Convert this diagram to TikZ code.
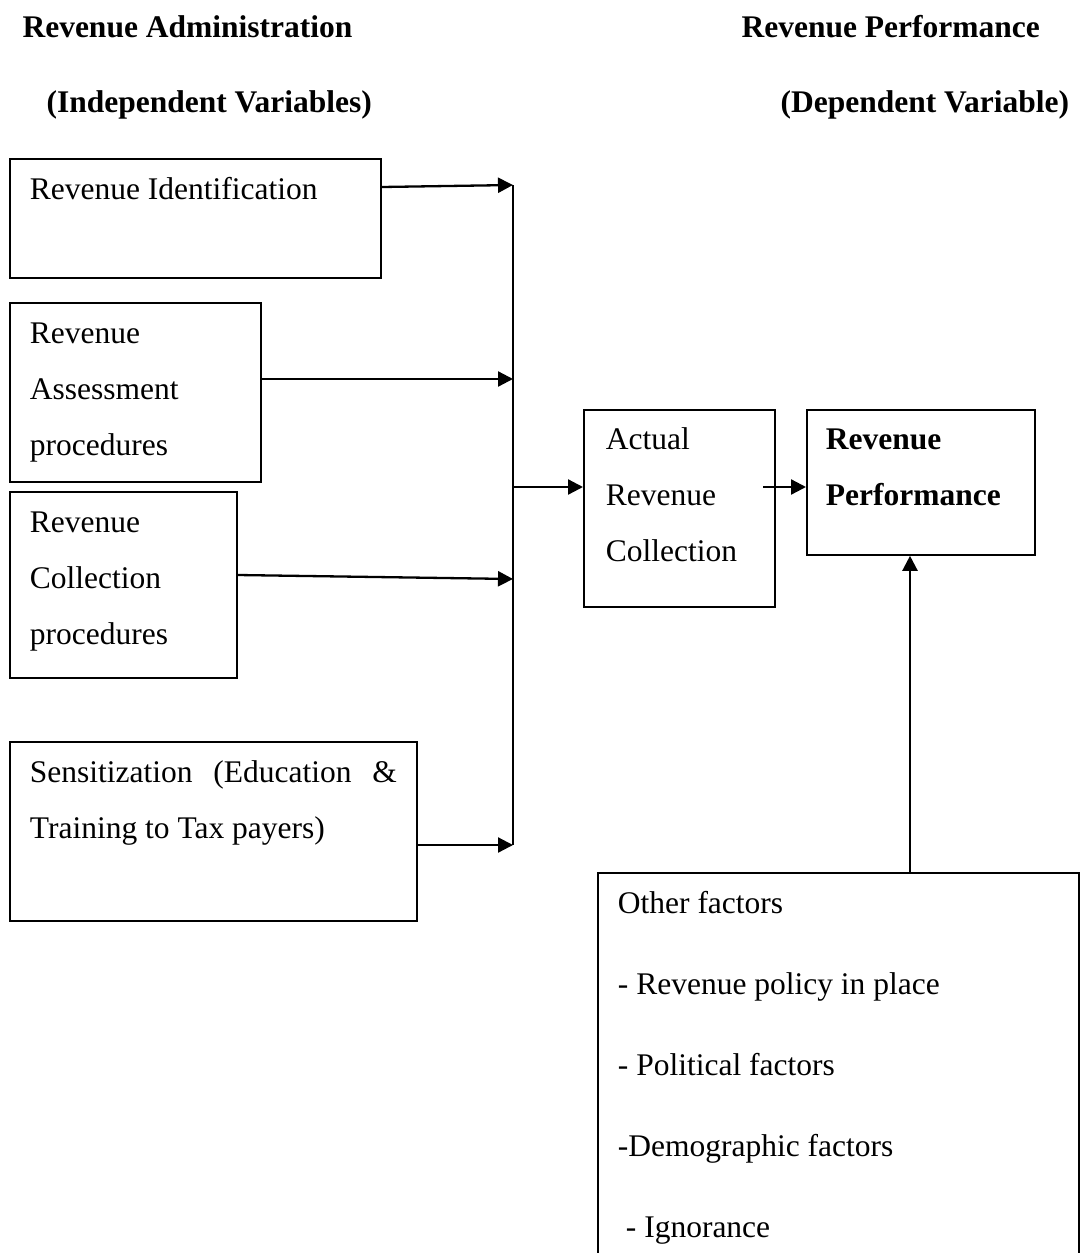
\documentclass[tikz,border=0pt]{standalone}
\usepackage{fontspec}
\setmainfont{Liberation Serif}
\usetikzlibrary{arrows.meta}

\newcommand{\bodyfont}{\fontsize{31.5}{56}\selectfont}
% box text: width, height, first baseline, lines
\newcommand{\boxtext}[4]{\parbox[t][#2][t]{#1}{\rule{0pt}{#3}#4}}

\tikzset{
  factor/.style={draw, line width=1.8pt, anchor=north west, inner xsep=20pt, inner ysep=0pt},
  link/.style={line width=2.3pt, -{Triangle[length=15pt, width=15pt]}},
  heading/.style={anchor=base west, font=\bodyfont\bfseries},
}

\begin{document}
\begin{tikzpicture}[x=1pt, y=-1pt, font=\bodyfont]
    \useasboundingbox (0,0) rectangle (1080,1253);
    \clip (0,0) rectangle (1080,1253);

    % headings
    \node[heading] (admin) at (19,37) {Revenue Administration};
    \node[heading] (indep) at (43,112) {(Independent Variables)};
    \node[heading] (perf) at (738,37) {Revenue Performance};
    \node[heading] (dep) at (777,112) {(Dependent Variable)};

    % independent variables
    \node[factor] (ident) at (9,158) {\boxtext{331pt}{119pt}{41pt}{Revenue Identification}};
    \node[factor] (assess) at (9,302) {\boxtext{211pt}{179pt}{41pt}{Revenue\\Assessment\\procedures}};
    \node[factor] (collect) at (9,491) {\boxtext{187pt}{186pt}{41pt}{Revenue\\Collection\\procedures}};
    \node[factor] (sensit) at (9,741) {\boxtext{367pt}{179pt}{41pt}{Sensitization\hfill(Education\hfill\&\\Training to Tax payers)}};

    % junction line
    \coordinate (j1) at (513,185);
    \coordinate (j2) at (513,379);
    \coordinate (j3) at (513,579);
    \coordinate (j4) at (513,845);
    \coordinate (j0) at (513,487);
    \draw[line width=2.3pt] (j1) -- (j4);

    \draw[link] ([yshift=-2pt]ident.east |- j1) -- (j1);
    \draw[link] (assess.east |- j2) -- (j2);
    \draw[link] ([yshift=4pt]collect.east |- j3) -- (j3);
    \draw[link] (sensit.east |- j4) -- (j4);

    % collection and performance
    \node[factor, inner xsep=22pt] (actual) at (583,409) {\boxtext{147pt}{197pt}{40pt}{Actual\\Revenue\\Collection}};
    \node[factor, inner xsep=19pt] (result) at (806,409) {\boxtext{190pt}{145pt}{40pt}{\bfseries Revenue\\Performance}};
    \coordinate (out) at (763,487);

    \draw[link] (j0) -- (actual.west |- j0);
    \draw[link] (out) -- (result.west |- out);

    % other factors
    \node[factor, inner xsep=20pt] (other) at (597,872) {\boxtext{441pt}{420pt}{41pt}{Other factors\\[25pt]- Revenue policy in place\\[25pt]- Political factors\\[25pt]-Demographic factors\\[25pt]\hspace*{8pt}- Ignorance}};
    \draw[link] (other.north -| 910,0) -- (result.south -| 910,0);
\end{tikzpicture}
\end{document}
